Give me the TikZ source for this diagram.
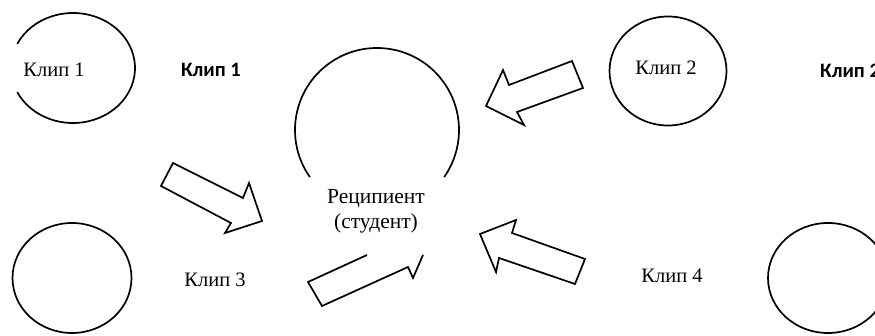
\documentclass[tikz,border=0pt]{standalone}
\usepackage{fontspec}
\setmainfont{Liberation Serif}
\newfontfamily\boldsans{Carlito}
\begin{document}
\begin{tikzpicture}[x=1pt,y=-1pt,
  lbl/.style={font=\fontsize{20.5}{25}\selectfont, inner sep=0pt, align=center},
  blbl/.style={font=\boldsans\bfseries\fontsize{20.5}{25}\selectfont, inner sep=0pt},
  ring/.style={draw, line width=1.7pt},
  blockarrow/.style={draw, line width=1.7pt, line join=miter}]
\useasboundingbox (0,0) rectangle (875,336);
\clip (0,0) rectangle (875,336);
% clip 1 (open ring)
\draw[ring] (73,68) ++(-154:62 and 55) arc[start angle=-154, end angle=154, x radius=62, y radius=55];
\node[lbl] (k1) at (54,70) {Клип 1};
\node[blbl] (k1b) at (211,70) {Клип 1};
% recipient (open ring)
\draw[ring] (377,130) ++(145:82) arc[start angle=145, end angle=395, radius=82];
\node[lbl, font=\fontsize{21.5}{25}\selectfont] (rec) at (376,211) {Реципиент\\(студент)};
% clip 2
\draw[ring] (668,71) ellipse[x radius=58.5, y radius=54.5];
\node[lbl] (k2) at (666,68) {Клип 2};
\node[blbl, anchor=west] (k2b) at (820,71) {Клип 2};
% clip 3
\draw[ring] (72,278) ellipse[x radius=59.5, y radius=55];
\node[lbl] (k3) at (215,280) {Клип 3};
% clip 4
\draw[ring] (828,278) ellipse[x radius=60, y radius=55];
\node[lbl] (k4) at (672,276) {Клип 4};
% block arrows
\draw[blockarrow] (173,163) -- (243,198) -- (249,183) -- (262,221) -- (225,233) -- (231,223) -- (161,186) -- cycle;
\draw[blockarrow] (486,106) -- (503,70) -- (509,85) -- (572,61) -- (583,88) -- (517,112) -- (524,125) -- cycle;
\draw[blockarrow] (480,234) -- (516,220) -- (512,233) -- (585,259) -- (575,284) -- (499,258) -- (496,272) -- cycle;
\draw[blockarrow] (367,255) -- (308,282) -- (322,306) -- (408,267) -- (413,278) -- (423,255);
\end{tikzpicture}
\end{document}
